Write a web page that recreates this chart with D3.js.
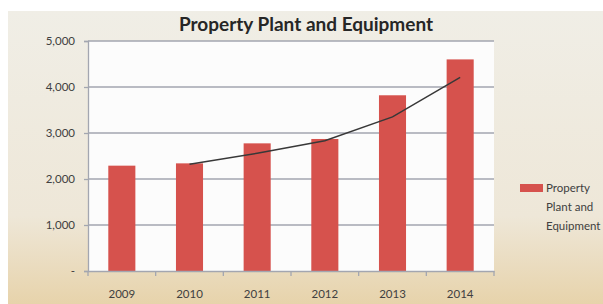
<!DOCTYPE html>
<html>
<head>
<meta charset="utf-8">
<script src="https://cdn.jsdelivr.net/npm/d3@7"></script>
<style>
  body { margin: 0; background: #ffffff; }
  svg { display: block; font-family: Lato, "Open Sans", sans-serif; }
</style>
</head>
<body>
<div class="chart_area"></div>
<script>
// data
var years = ["2009", "2010", "2011", "2012", "2013", "2014"];
var values = [2290, 2340, 2775, 2870, 3820, 4600];
var trend = [null, 2320, 2560, 2830, 3350, 4210];
var yTicks = [0, 1000, 2000, 3000, 4000, 5000];
var seriesName = ["Property", "Plant and", "Equipment"];
var title = "Property Plant and Equipment";

var W = 603, H = 304;
var margin = {top: 41, right: 109, bottom: 33, left: 88},
    width = W - margin.left - margin.right,
    height = H - margin.top - margin.bottom;

var svg = d3.select(".chart_area").append("svg")
    .attr("width", W)
    .attr("height", H);

// beige background panel
var grad = svg.append("defs").append("linearGradient")
    .attr("id", "bg").attr("x1", 0).attr("y1", 0).attr("x2", 0).attr("y2", 1);
grad.append("stop").attr("offset", "0%").attr("stop-color", "#f0eee6");
grad.append("stop").attr("offset", "70%").attr("stop-color", "#eee7d8");
grad.append("stop").attr("offset", "100%").attr("stop-color", "#e7d3ab");

svg.append("rect")
    .attr("x", 8).attr("y", 11)
    .attr("width", W - 8).attr("height", H - 11)
    .attr("fill", "url(#bg)");

svg.append("text")
    .attr("x", 306).attr("y", 31)
    .attr("text-anchor", "middle")
    .style("font-size", "19px")
    .style("font-weight", "bold")
    .style("fill", "#262626")
    .text(title);

var g = svg.append("g")
    .attr("transform", "translate(" + margin.left + "," + margin.top + ")");

// plot area
g.append("rect")
    .attr("width", width).attr("height", height)
    .attr("fill", "#fcfcfc");

var x = d3.scaleBand()
    .domain(years)
    .range([0, width])
    .paddingInner(0.6)
    .paddingOuter(0.3);

var y = d3.scaleLinear()
    .domain([0, 5000])
    .range([height, 0]);

// gridlines
g.selectAll("line.grid")
  .data(yTicks.slice(1))
  .enter().append("line")
    .attr("class", "grid")
    .attr("x1", 0).attr("x2", width)
    .attr("y1", d => y(d)).attr("y2", d => y(d))
    .style("stroke", "#a3a6b0")
    .style("stroke-width", 1.3);

// bars
g.selectAll("rect.bar")
  .data(values)
  .enter().append("rect")
    .attr("class", "bar")
    .attr("x", (d, i) => x(years[i]))
    .attr("y", d => y(d))
    .attr("width", x.bandwidth())
    .attr("height", d => height - y(d))
    .attr("fill", "#d6524d");

// trend line
var line = d3.line()
    .defined(d => d != null)
    .x((d, i) => x(years[i]) + x.bandwidth() / 2)
    .y(d => y(d));

g.append("path")
    .datum(trend)
    .attr("d", line)
    .attr("fill", "none")
    .attr("stroke", "#383838")
    .attr("stroke-width", 1.5);

// y axis
var yAxis = g.append("g")
    .call(d3.axisLeft(y).tickValues(yTicks).tickSizeOuter(0).tickSize(4).tickPadding(9)
      .tickFormat(d => d === 0 ? "-" : d3.format(",")(d)));

// x axis, ticks on band boundaries
var step = x.step();
var xAxis = g.append("g")
    .attr("transform", "translate(0," + height + ")")
    .call(d3.axisBottom(x).tickSize(0).tickPadding(19));
xAxis.selectAll(".bound")
  .data(d3.range(years.length + 1))
  .enter().append("line")
    .attr("class", "bound")
    .attr("x1", i => i * step).attr("x2", i => i * step)
    .attr("y1", 0).attr("y2", 5);

g.selectAll(".domain, .tick line, .bound")
    .style("stroke", "#a3a6b0")
    .style("stroke-width", 1.3);
g.selectAll(".tick text")
    .style("font-size", "11.5px")
    .style("fill", "#404040")
    .style("font-family", "Lato, 'Open Sans', sans-serif");

// legend
var legend = svg.append("g").attr("transform", "translate(520,184)");
legend.append("rect")
    .attr("width", 23).attr("height", 8)
    .attr("fill", "#d6524d");
legend.selectAll("text")
  .data(seriesName)
  .enter().append("text")
    .attr("x", 26)
    .attr("y", (d, i) => 8 + i * 19)
    .style("font-size", "11.5px")
    .style("fill", "#404040")
    .text(d => d);
</script>
</body>
</html>
